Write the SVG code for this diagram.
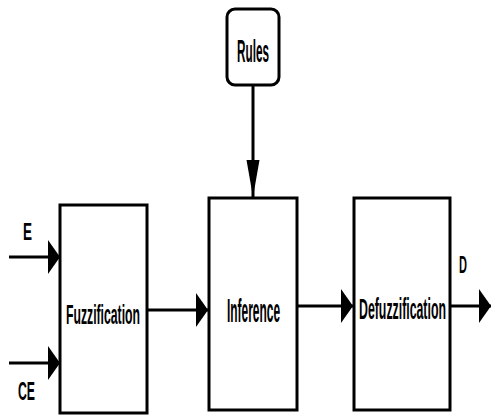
<svg xmlns="http://www.w3.org/2000/svg" width="491" height="417" viewBox="0 0 491 417">
<style>
.box{fill:#fff;stroke:#000;stroke-width:3}
.ln{stroke:#000;stroke-width:3;fill:none}
text{font-family:"Liberation Sans",Arial,sans-serif;fill:#000;font-weight:bold}
</style>
<defs>
<marker id="ah" markerUnits="userSpaceOnUse" markerWidth="14" markerHeight="36" refX="12" refY="17" orient="auto">
<path d="M0,0 L12,17 L0,34 Z" fill="#000"/>
</marker>
<marker id="av" markerUnits="userSpaceOnUse" markerWidth="38" markerHeight="14" refX="37" refY="6.5" orient="auto">
<path d="M0,0 L37,6.5 L0,13 Z" fill="#000"/>
</marker>
</defs>
<rect width="491" height="417" fill="#fff"/>
<g id="connectors">
<line class="ln" x1="9" y1="257" x2="60" y2="257" marker-end="url(#ah)"/>
<line class="ln" x1="9" y1="363" x2="60" y2="363" marker-end="url(#ah)"/>
<line class="ln" x1="147" y1="310" x2="208" y2="310" marker-end="url(#ah)"/>
<line class="ln" x1="297" y1="306" x2="353" y2="306" marker-end="url(#ah)"/>
<line class="ln" x1="450" y1="306" x2="491" y2="306" marker-end="url(#ah)"/>
<line class="ln" x1="253" y1="85" x2="253" y2="197" marker-end="url(#av)"/>
</g>
<g id="fuzzification">
<rect class="box" x="60" y="205" width="87" height="208"/>
<text transform="matrix(0.453 0 0 1 66 324)" font-size="27">Fuzzification</text>
</g>
<g id="inference">
<rect class="box" x="209" y="198" width="88" height="212"/>
<text transform="matrix(0.351 0 0 1 227 322)" font-size="34">Inference</text>
</g>
<g id="defuzzification">
<rect class="box" x="354" y="198" width="96" height="212"/>
<text transform="matrix(0.411 0 0 1 359 319)" font-size="30">Defuzzification</text>
</g>
<g id="rules">
<rect class="box" x="227" y="9" width="52" height="76" rx="8" ry="8"/>
<text transform="matrix(0.367 0 0 1 237 62)" font-size="32">Rules</text>
</g>
<g id="labels">
<text transform="matrix(0.587 0 0 1 23 240)" font-size="23">E</text>
<text transform="matrix(0.49 0 0 1 18 400)" font-size="25">CE</text>
<text transform="matrix(0.46 0 0 1 459 273)" font-size="24">D</text>
</g>
</svg>
